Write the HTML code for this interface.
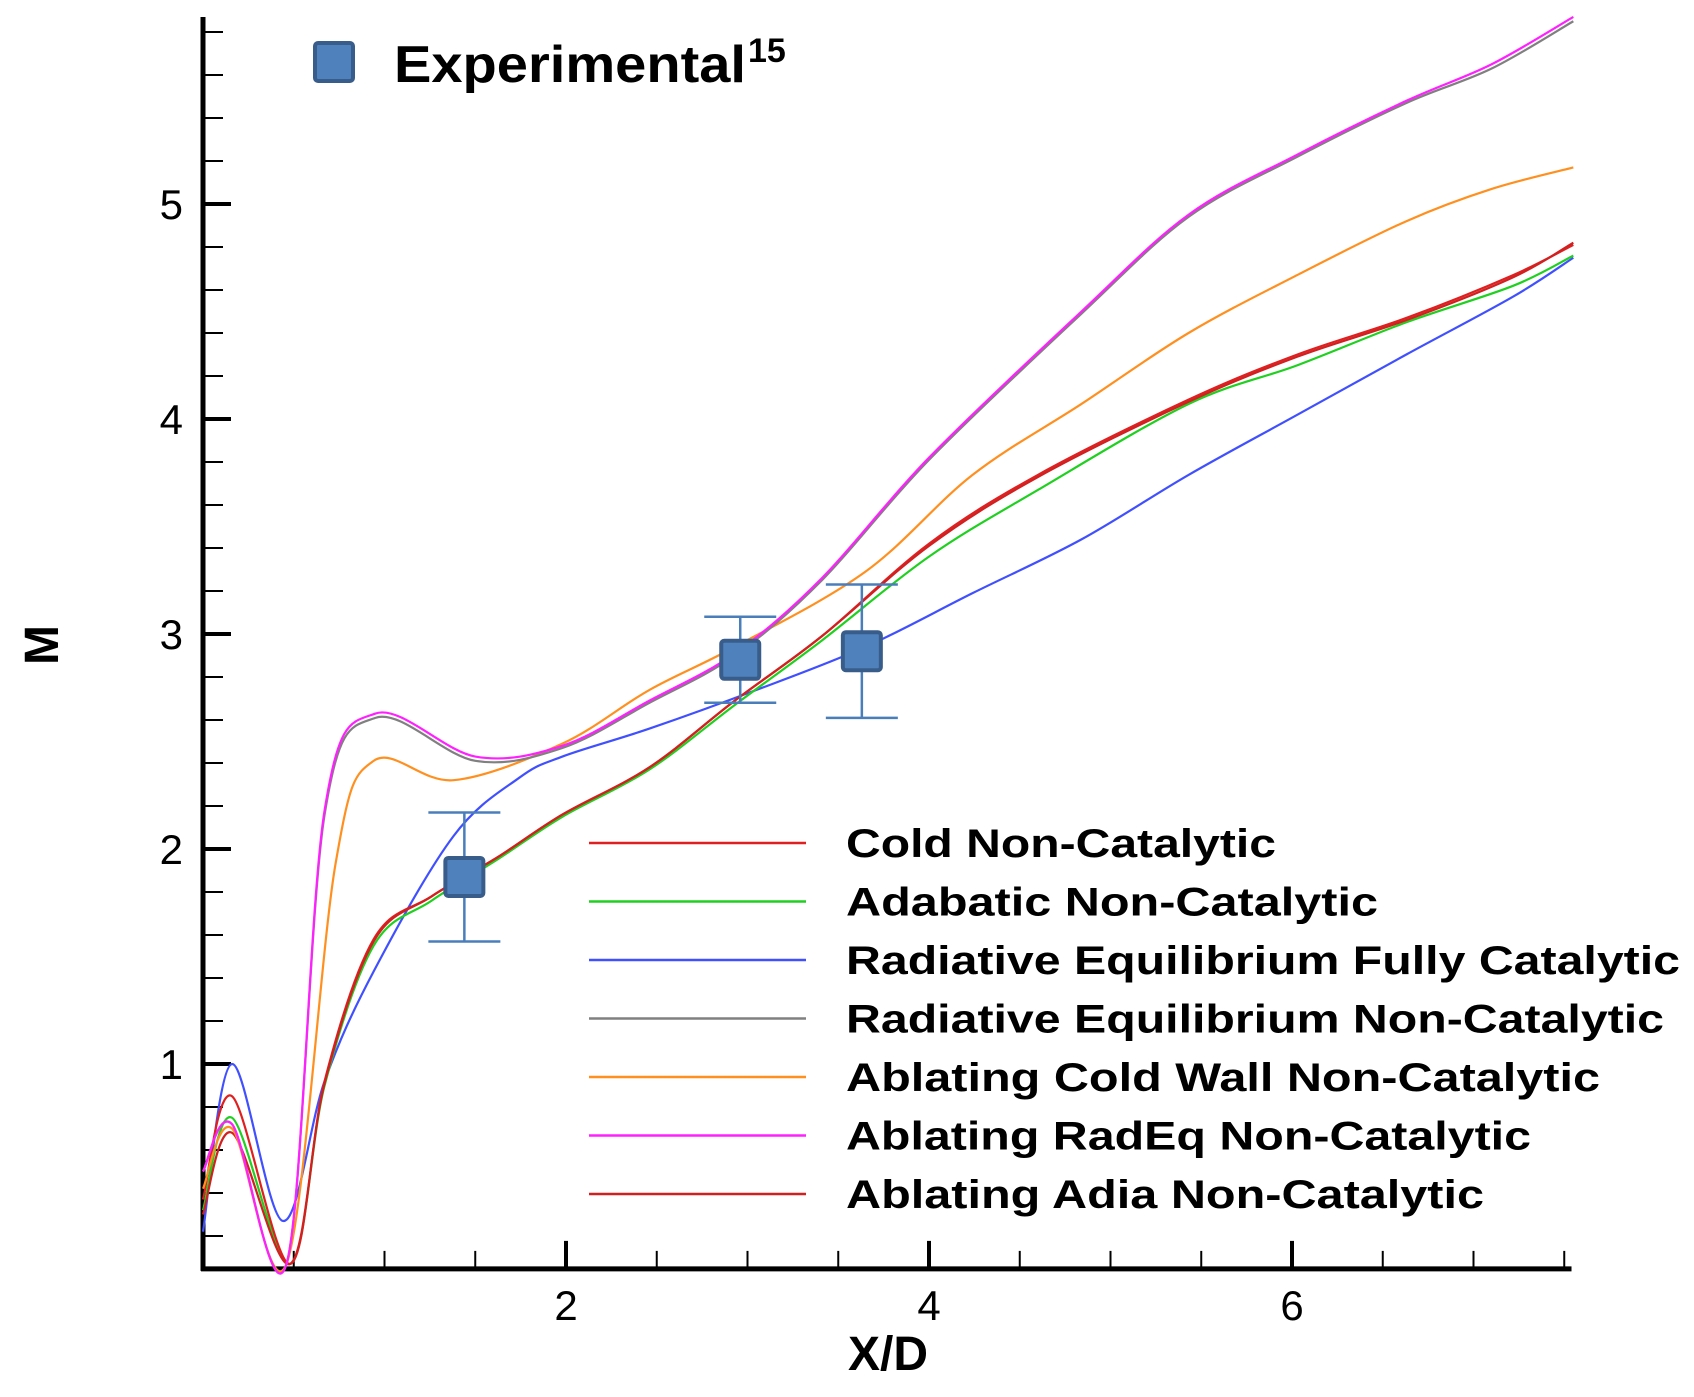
<!DOCTYPE html>
<html><head><meta charset="utf-8"><style>
html,body{margin:0;padding:0;background:#fff;}
svg{display:block;font-family:"Liberation Sans",Arial,sans-serif;}
</style></head><body>
<svg id="chart" width="1694" height="1397" viewBox="0 0 1694 1397" xmlns="http://www.w3.org/2000/svg">
<g id="axes"></g>
<g id="series"></g>
<g id="exp"></g>
<g id="legend"></g>
<text x="888" y="1370" font-size="48" font-weight="bold" text-anchor="middle">X/D</text>
<text transform="translate(58,645) rotate(-90)" font-size="48" font-weight="bold" text-anchor="middle">M</text>
</svg>
<script>
const xTicks=[2,4,6];
const yTicks=[1,2,3,4,5];
const seriesNames=["Cold Non-Catalytic","Adabatic Non-Catalytic","Radiative Equilibrium Fully Catalytic","Radiative Equilibrium Non-Catalytic","Ablating Cold Wall Non-Catalytic","Ablating RadEq Non-Catalytic","Ablating Adia Non-Catalytic"];
const seriesColors=["#e02020","#20d020","#4050ff","#808080","#ff9020","#ff20ff","#d02020"];
const xsRed=[0,0.16,0.48,0.67,0.94,1.26,1.62,1.98,2.46,2.93,3.41,4.0,4.6,5.43,6.03,6.63,7.22,7.55];
const ysRed=[0.37,0.85,0.07,0.92,1.58,1.78,1.96,2.16,2.38,2.69,2.99,3.42,3.74,4.09,4.3,4.47,4.67,4.81];
const ysGreen=[0.32,0.75,0.07,0.90,1.55,1.76,1.95,2.15,2.37,2.67,2.97,3.36,3.67,4.07,4.25,4.45,4.62,4.76];
const ysAdia=[0.30,0.68,0.07,0.91,1.57,1.78,1.96,2.16,2.38,2.69,2.99,3.41,3.73,4.08,4.29,4.46,4.66,4.82];
const xsBlue=[0,0.16,0.44,0.67,0.94,1.38,1.74,1.98,2.46,3.05,3.65,4.24,4.84,5.43,6.03,6.63,7.22,7.55];
const ysBlue=[0.22,1.0,0.27,0.92,1.43,2.06,2.33,2.43,2.56,2.74,2.94,3.19,3.44,3.74,4.02,4.3,4.57,4.75];
const xsMag=[0,0.16,0.46,0.67,0.95,1.5,1.98,2.46,2.93,3.41,4.0,4.84,5.43,6.03,6.63,7.1,7.55];
const ysMag=[0.5,0.72,0.07,2.18,2.63,2.43,2.48,2.69,2.91,3.26,3.82,4.5,4.95,5.23,5.48,5.65,5.87];
const ysGray=[0.5,0.72,0.07,2.16,2.61,2.41,2.47,2.68,2.90,3.25,3.81,4.49,4.94,5.22,5.47,5.63,5.85];
const xsOrange=[0,0.16,0.46,0.73,0.94,1.38,1.98,2.46,2.93,3.65,4.24,4.84,5.43,6.03,6.63,7.1,7.55];
const ysOrange=[0.42,0.70,0.07,1.93,2.41,2.32,2.49,2.74,2.94,3.29,3.74,4.07,4.4,4.67,4.92,5.07,5.17];
const expX=[1.44,2.96,3.63];
const expY=[1.87,2.88,2.92];
const expErr=[0.30,0.20,0.31];

const NS="http://www.w3.org/2000/svg";
const X0=203,XS=181.5,Y1=1064,YS=215;
function sx(v){return X0+v*XS;}
function sy(v){return Y1-(v-1)*YS;}
function mk(tag,parent,attrs){const e=document.createElementNS(NS,tag);for(const k in attrs)e.setAttribute(k,attrs[k]);parent.appendChild(e);return e;}
const axes=document.getElementById('axes');
const yMin=0.047,yMax=5.87,xMax=7.54;
let a=mk('line',axes,{x1:sx(0),y1:sy(yMax),x2:sx(0),y2:sy(yMin)+2,stroke:'#000','stroke-width':5});

a=mk('line',axes,{x1:sx(0)-2,y1:sy(yMin),x2:sx(xMax),y2:sy(yMin),stroke:'#000','stroke-width':5});

for(let v=0.2;v<yMax;v+=0.2){const major=Math.abs(v-Math.round(v))<0.01;
 const t=mk('line',axes,{x1:sx(0),y1:sy(v),x2:sx(0)+(major?28:20),y2:sy(v),stroke:'#000','stroke-width':major?4:2});
 }
for(let v=0.5;v<=xMax;v+=0.5){const major=Math.abs(v/2-Math.round(v/2))<0.01;
 const t=mk('line',axes,{x1:sx(v),y1:sy(yMin),x2:sx(v),y2:sy(yMin)-(major?28:18),stroke:'#000','stroke-width':major?4:2});
 }
yTicks.forEach(v=>{const t=mk('text',axes,{x:183,y:sy(v)+15,'font-size':42,'text-anchor':'end'});t.textContent=v;
 });
xTicks.forEach(v=>{const t=mk('text',axes,{x:sx(v),y:1320,'font-size':42,'text-anchor':'middle'});t.textContent=v;
 });

function pathD(xs,ys){const p=xs.map((x,i)=>[sx(x),sy(ys[i])]);let d='M'+p[0][0]+','+p[0][1];
 for(let i=0;i<p.length-1;i++){const p0=p[Math.max(0,i-1)],p1=p[i],p2=p[i+1],p3=p[Math.min(p.length-1,i+2)];
  const c1=[p1[0]+(p2[0]-p0[0])/6,p1[1]+(p2[1]-p0[1])/6],c2=[p2[0]-(p3[0]-p1[0])/6,p2[1]-(p3[1]-p1[1])/6];
  d+=' C'+c1.join(',')+' '+c2.join(',')+' '+p2.join(',');}return d;}
const ser=document.getElementById('series');
const defs=[[xsBlue,ysBlue,2],[xsRed,ysGreen,1],[xsRed,ysRed,0],[xsRed,ysAdia,6],[xsOrange,ysOrange,4],[xsMag,ysGray,3],[xsMag,ysMag,5]];
defs.forEach(d=>{const p=mk('path',ser,{d:pathD(d[0],d[1]),fill:'none',stroke:seriesColors[d[2]],'stroke-width':2.2});
 });
const ex=document.getElementById('exp');
expX.forEach((x,i)=>{const cx=sx(x),cy=sy(expY[i]),t=sy(expY[i]+expErr[i]),b=sy(expY[i]-expErr[i]);
 let e=mk('path',ex,{d:`M${cx},${t}V${b}M${cx-36},${t}H${cx+36}M${cx-36},${b}H${cx+36}`,stroke:'#4a7ebb','stroke-width':2.5,fill:'none'});
 
 e=mk('rect',ex,{x:cx-19,y:cy-19,width:38,height:38,rx:3,fill:'#4f81bd',stroke:'#385d8a','stroke-width':4});
 });
const lg=document.getElementById('legend');
let e=mk('rect',lg,{x:315,y:43,width:38,height:38,rx:3,fill:'#4f81bd',stroke:'#385d8a','stroke-width':4});

e=mk('text',lg,{x:394,y:82,'font-size':52,'font-weight':'bold',textLength:352,lengthAdjust:'spacingAndGlyphs'});e.textContent='Experimental';

e=mk('text',lg,{x:748,y:62,'font-size':34,'font-weight':'bold'});e.textContent='15';

const widths=[430,532,834,818,754,685,638];
seriesNames.forEach((n,i)=>{const y=843+i*58.5;
 let l=mk('line',lg,{x1:589,y1:y,x2:806,y2:y,stroke:seriesColors[i],'stroke-width':2.5});
 
 let t=mk('text',lg,{x:846,y:y+14,'font-size':40,'font-weight':'bold',textLength:widths[i],lengthAdjust:'spacingAndGlyphs'});t.textContent=n;
 });
</script>
</body></html>
